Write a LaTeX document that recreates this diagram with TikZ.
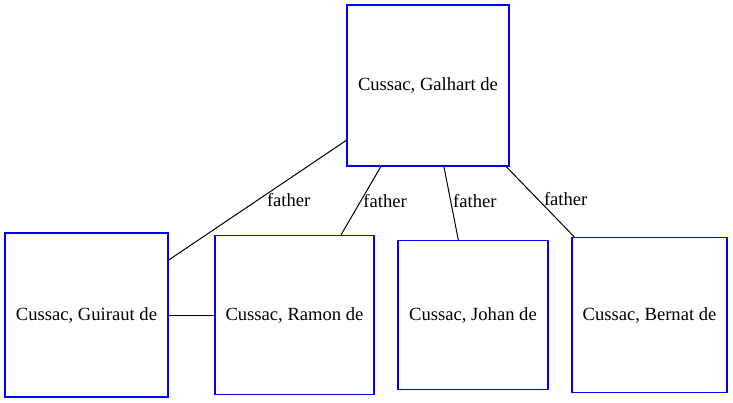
\documentclass[tikz,border=0pt]{standalone}
\usepackage{fontspec}
\setmainfont{Liberation Serif}
\usepackage{tikz}

\tikzset{
  person/.style={draw=blue, line width=1.2pt, inner sep=2pt, align=center, font=\fontsize{18.6}{21}\selectfont},
  rel/.style={draw=black, line width=1pt},
  rellabel/.style={anchor=west, inner sep=2pt, font=\fontsize{18.6}{21}\selectfont}
}

\begin{document}
\begin{tikzpicture}[x=1pt, y=-1pt]
		% Page size
		\useasboundingbox (0,0) rectangle (733,402);
		
		% Father
		\node[person, minimum width=162pt, minimum height=161pt] (galhart) at (428,85.5) {Cussac, Galhart de};
		
		% Sons
		\node[person, minimum width=163pt, minimum height=164pt] (guiraut) at (86.5,315) {Cussac, Guiraut de};
		\node[person, minimum width=159pt, minimum height=159pt] (ramon) at (294.5,315) {Cussac, Ramon de};
		\node[person, minimum width=150pt, minimum height=149pt] (johan) at (473,315) {Cussac, Johan de};
		\node[person, minimum width=155pt, minimum height=155pt] (bernat) at (649.5,315) {Cussac, Bernat de};
		
		% Relations
		\draw[rel] (galhart) -- (guiraut) node[rellabel, pos=0.5, xshift=7pt] {father};
		\draw[rel] (galhart) -- (ramon) node[rellabel, pos=0.5] {father};
		\draw[rel] (galhart) -- (johan) node[rellabel, pos=0.47] {father};
		\draw[rel] (galhart) -- (bernat) node[rellabel, pos=0.46, xshift=4pt] {father};
		\draw[rel] (guiraut) -- (ramon);
\end{tikzpicture}
\end{document}
